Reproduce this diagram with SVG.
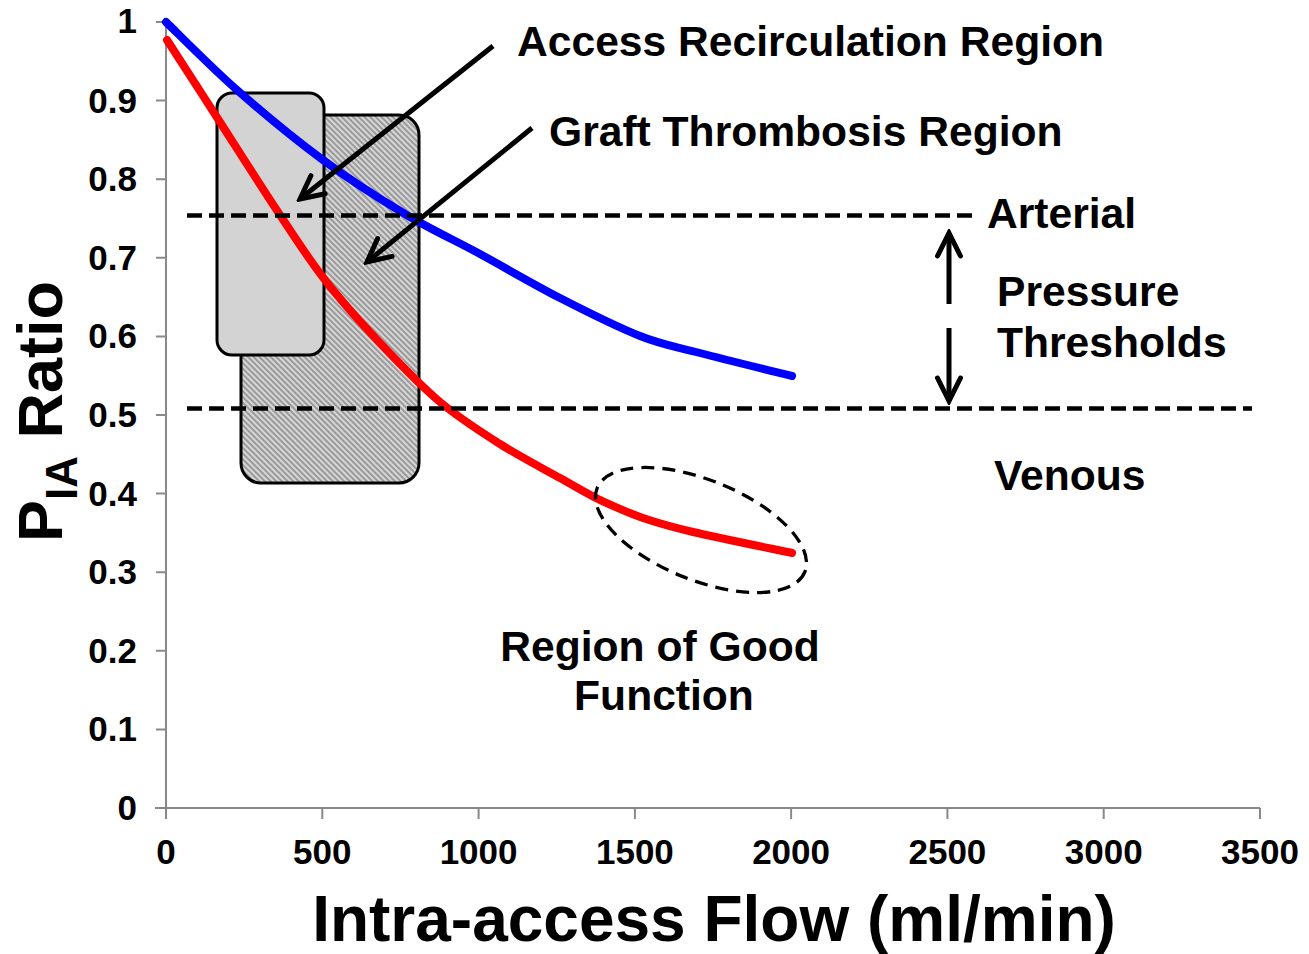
<svg xmlns="http://www.w3.org/2000/svg" width="1309" height="954" viewBox="0 0 1309 954">
  <style>
    text { font-family: "Liberation Sans", Arial, sans-serif; font-weight: bold; fill: #000; }
    .tick { font-size: 35px; }
    .ylab { text-anchor: end; }
    .xlab { text-anchor: middle; }
    .note { font-size: 42.6px; }
    .axis { stroke: #898989; stroke-width: 2; fill: none; }
    .thresh { stroke: #000; stroke-width: 4.5; stroke-dasharray: 15 7; fill: none; }
    .pointer { stroke: #000; stroke-width: 5; fill: none; marker-end: url(#head); }
    .curve { fill: none; stroke-width: 8; stroke-linecap: round; stroke-linejoin: round; }
    .box { stroke: #000; stroke-width: 3; }
  </style>
  <defs>
    <pattern id="hatch" patternUnits="userSpaceOnUse" width="4" height="4" patternTransform="rotate(-45)">
      <rect width="4" height="4" fill="#9a9a9a"/>
      <rect width="2" height="4" fill="#d6d6d6"/>
    </pattern>
    <marker id="head" viewBox="-30 -16 34 32" refX="0" refY="0" markerWidth="34" markerHeight="32" markerUnits="userSpaceOnUse" orient="auto">
      <path d="M-23,-11.5 L0,0 L-23,11.5" fill="none" stroke="#000" stroke-width="5" stroke-linecap="round"/>
    </marker>
  </defs>

  <rect width="1309" height="954" fill="#fff"/>

  <!-- axes -->
  <g id="axes">
    <path class="axis" d="M166,22 V808 M155,808 H1260"/>
    <path class="axis" d="M156,22 H166 M156,100.6 H166 M156,179.2 H166 M156,257.8 H166 M156,336.4 H166 M156,415 H166 M156,493.6 H166 M156,572.2 H166 M156,650.8 H166 M156,729.4 H166 M156,808 H166"/>
    <path class="axis" d="M166,808 V819 M322.3,808 V819 M478.6,808 V819 M634.9,808 V819 M791.1,808 V819 M947.4,808 V819 M1103.7,808 V819 M1260,808 V819"/>
    <g class="tick ylab">
      <text x="137" y="33">1</text>
      <text x="137" y="112.6">0.9</text>
      <text x="137" y="191.2">0.8</text>
      <text x="137" y="269.8">0.7</text>
      <text x="137" y="348.4">0.6</text>
      <text x="137" y="427">0.5</text>
      <text x="137" y="505.6">0.4</text>
      <text x="137" y="584.2">0.3</text>
      <text x="137" y="662.8">0.2</text>
      <text x="137" y="741.4">0.1</text>
      <text x="137" y="820">0</text>
    </g>
    <g class="tick xlab">
      <text x="166" y="864">0</text>
      <text x="322.3" y="864">500</text>
      <text x="478.6" y="864">1000</text>
      <text x="634.9" y="864">1500</text>
      <text x="791.1" y="864">2000</text>
      <text x="947.4" y="864">2500</text>
      <text x="1103.7" y="864">3000</text>
      <text x="1260" y="864">3500</text>
    </g>
    <text x="714" y="941" font-size="64" text-anchor="middle">Intra-access Flow (ml/min)</text>
    <text transform="translate(62,542) rotate(-90)" font-size="63">P<tspan font-size="44" dy="15">IA</tspan><tspan dy="-15"> Ratio</tspan></text>
  </g>

  <!-- shaded regions -->
  <g id="thrombosis-region">
    <rect class="box" x="241" y="115" width="178" height="368" rx="20" fill="url(#hatch)"/>
  </g>
  <g id="recirculation-region">
    <rect class="box" x="217" y="93" width="107" height="262" rx="15" fill="#d3d3d3"/>
  </g>

  <!-- data curves -->
  <g id="curve-blue">
    <path class="curve" stroke="#0000ff" d="M166,22 C177.8,33.3 210.8,67 237,90 C263.2,113 295,139.3 323,160 C351,180.7 378.8,198.3 405,214 C431.2,229.7 454.2,240 480,254 C505.8,268 533.3,284.3 560,298 C586.7,311.7 616.7,326.8 640,336 C663.3,345.2 674.7,346.3 700,353 C725.3,359.7 776.7,372.2 792,376"/>
  </g>
  <g id="curve-red">
    <path class="curve" stroke="#ff0000" d="M167,40 C175.5,53.2 199.5,90.3 218,119 C236.5,147.7 260.2,185.2 278,212 C295.8,238.8 308,258.2 325,280 C342,301.8 360.8,322.7 380,343 C399.2,363.3 420,385.2 440,402 C460,418.8 480,431.3 500,444 C520,456.7 543.3,468.7 560,478 C576.7,487.3 586.2,493.3 600,500 C613.8,506.3 627.5,512.7 643,518 C658.5,523.3 668.2,526.2 693,532 C717.8,537.8 775.5,549.5 792,553"/>
  </g>

  <!-- threshold lines -->
  <g id="thresholds">
    <path class="thresh" d="M187,215.5 H972"/>
    <path class="thresh" d="M187,408.5 H1252"/>
  </g>

  <!-- good function outline -->
  <g id="good-function">
    <ellipse cx="701" cy="530" rx="112" ry="50" transform="rotate(22 701 530)" fill="none" stroke="#000" stroke-width="3.3" stroke-dasharray="13 8"/>
  </g>

  <!-- pointers -->
  <g id="connectors">
    <path class="pointer" d="M493,46 L300,199"/>
    <path class="pointer" d="M532,128 L367,262"/>
    <path class="pointer" d="M949,304 V233"/>
    <path class="pointer" d="M949,328 V401"/>
  </g>

  <!-- labels -->
  <g id="labels" class="note">
    <text x="517" y="56">Access Recirculation Region</text>
    <text x="549" y="146">Graft Thrombosis Region</text>
    <text x="987" y="228">Arterial</text>
    <text x="997" y="306">Pressure</text>
    <text x="997" y="357">Thresholds</text>
    <text x="994" y="490">Venous</text>
    <text x="660" y="661" text-anchor="middle">Region of Good</text>
    <text x="664" y="710" text-anchor="middle">Function</text>
  </g>
</svg>
